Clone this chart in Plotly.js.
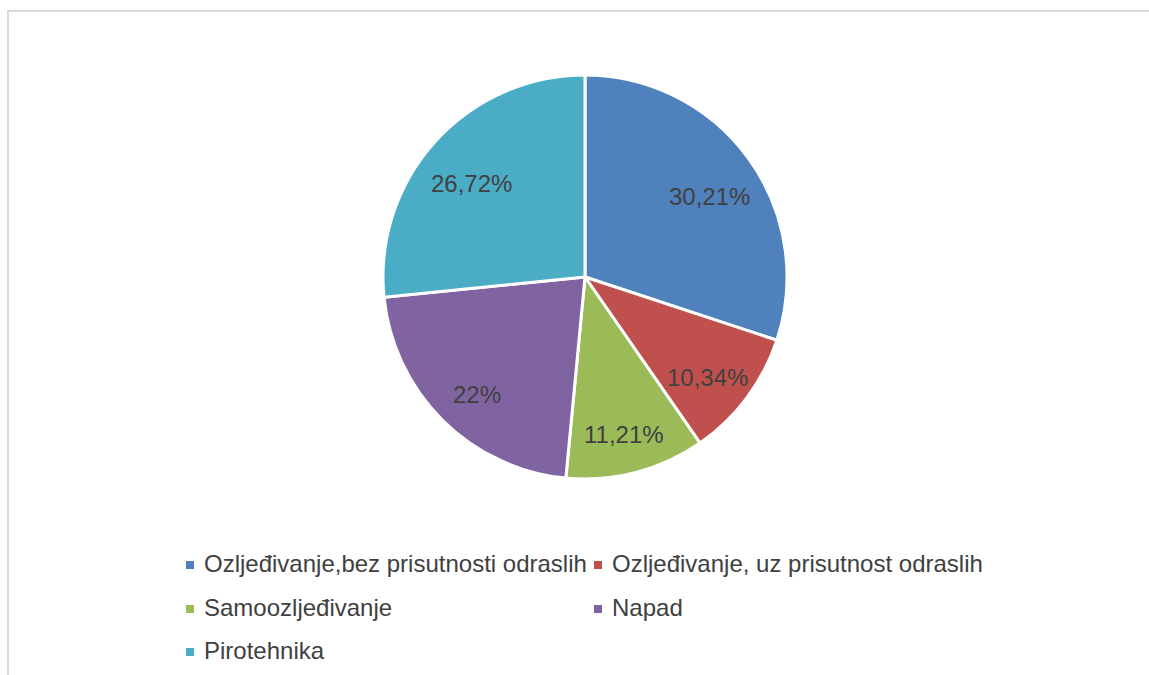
<!DOCTYPE html>
<html>
<head>
<meta charset="utf-8">
<script src="https://cdn.plot.ly/plotly-3.0.1.min.js"></script>
<style>
  html, body { margin: 0; padding: 0; background: #ffffff; }
  #frame { position: absolute; left: 7px; top: 10px; width: 1300px; height: 800px;
           border-left: 2px solid #d9d9d9; border-top: 2px solid #d9d9d9; box-sizing: border-box; }
  #chart { position: absolute; left: 0; top: 0; width: 1149px; height: 675px; }
</style>
</head>
<body>
<div id="frame"></div>
<div id="chart"></div>
<script>
const categories = [
  "Ozljeđivanje,bez prisutnosti odraslih",
  "Ozljeđivanje, uz prisutnost odraslih",
  "Samoozljeđivanje",
  "Napad",
  "Pirotehnika"
];
const values = [30.21, 10.34, 11.21, 22, 26.72];
const valueLabels = ["30,21%", "10,34%", "11,21%", "22%", "26,72%"];
const colors = ["#4F81BD", "#C0504D", "#9BBB59", "#8064A2", "#4BACC6"];

const W = 1149, H = 675;
const M = { l: 21, r: 0, t: 75, b: 196 };
const plotW = W - M.l - M.r, plotH = H - M.t - M.b;
const radius = Math.min(plotW, plotH) / 2;
const FONT = "Liberation Sans, Arial, sans-serif";
const TEXT_COLOR = "#404040";

const px2x = px => (px - M.l) / plotW;
const py2y = py => (H - M.b - py) / plotH;

const trace = {
  type: "pie",
  labels: categories,
  values: values,
  text: valueLabels,
  textinfo: "none",
  sort: false,
  direction: "clockwise",
  rotation: 0,
  marker: { colors: colors, line: { color: "#ffffff", width: 3 } },
  hoverinfo: "label+text",
  showlegend: false
};

// value labels placed at each slice's mid-angle (derived from the values)
const total = values.reduce((a, b) => a + b, 0);
const annotations = [];
const shapes = [];
let cum = 0;
const labelFrac = 0.76;
values.forEach((v, i) => {
  const mid = (cum + v / 2) / total * 2 * Math.PI;
  cum += v;
  annotations.push({
    xref: "paper", yref: "paper", x: 0.5, y: 0.5,
    xanchor: "center", yanchor: "middle",
    xshift: radius * labelFrac * Math.sin(mid),
    yshift: radius * labelFrac * Math.cos(mid) - 9,
    text: valueLabels[i], showarrow: false,
    font: { family: FONT, size: 24, color: TEXT_COLOR }
  });
});

// legend: two columns, rows below the pie
const legendCols = [190, 598];   // marker centre x (px)
const legendRows = [563, 607, 650]; // text centre y (px)
categories.forEach((c, i) => {
  const col = i % 2, row = Math.floor(i / 2);
  const mx = legendCols[col], my = legendRows[row];
  shapes.push({
    type: "rect", xref: "paper", yref: "paper",
    xsizemode: "pixel", ysizemode: "pixel",
    xanchor: px2x(mx), yanchor: py2y(my + 2),
    x0: -4, x1: 4, y0: -4, y1: 4,
    fillcolor: colors[i], line: { width: 0 }
  });
  annotations.push({
    xref: "paper", yref: "paper",
    x: px2x(mx + 12), y: py2y(my),
    xanchor: "left", yanchor: "middle",
    text: c, showarrow: false,
    font: { family: FONT, size: 24, color: TEXT_COLOR }
  });
});

const layout = {
  width: W,
  height: H,
  margin: M,
  paper_bgcolor: "rgba(0,0,0,0)",
  plot_bgcolor: "rgba(0,0,0,0)",
  font: { family: FONT, size: 24, color: TEXT_COLOR },
  showlegend: false,
  annotations: annotations,
  shapes: shapes
};

Plotly.newPlot("chart", [trace], layout, { displayModeBar: false, staticPlot: true });
</script>
</body>
</html>
